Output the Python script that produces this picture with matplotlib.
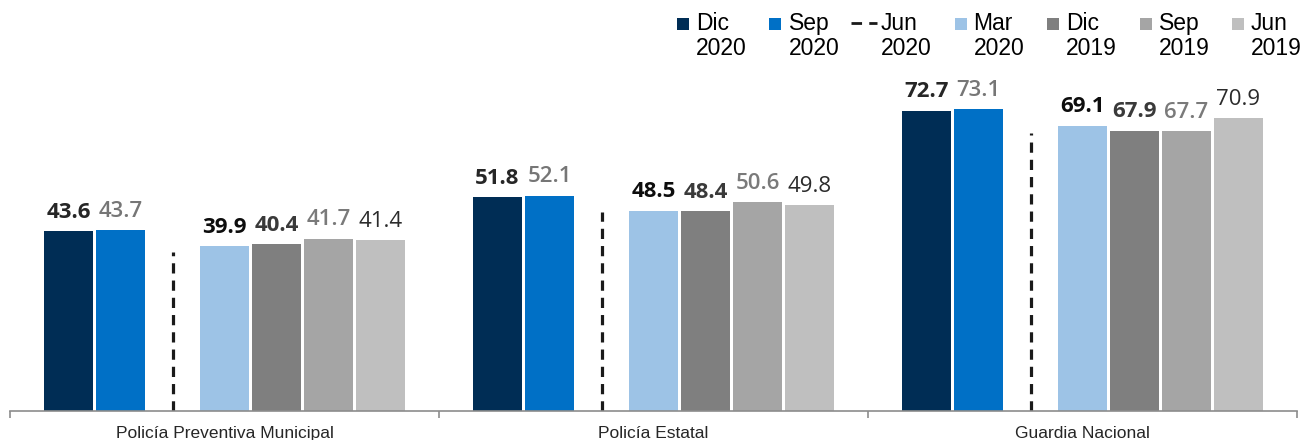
import numpy as np
import matplotlib
matplotlib.use("Agg")
import matplotlib.pyplot as plt
from matplotlib.patches import Rectangle
from matplotlib.lines import Line2D

plt.rcParams["font.family"] = ["Liberation Sans", "DejaVu Sans"]

# ---------- data ----------
categories = ["Policía Preventiva Municipal", "Policía Estatal", "Guardia Nacional"]
series_names = ["Dic\n2020", "Sep\n2020", "Jun\n2020", "Mar\n2020", "Dic\n2019", "Sep\n2019", "Jun\n2019"]

dic_2020 = [43.6, 51.8, 72.7]
sep_2020 = [43.7, 52.1, 73.1]
jun_2020_marker = [38.5, 48.2, 67.3]   # dashed separator, no survey in Jun 2020
mar_2020 = [39.9, 48.5, 69.1]
dic_2019 = [40.4, 48.4, 67.9]
sep_2019 = [41.7, 50.6, 67.7]
jun_2019 = [41.4, 49.8, 70.9]

bar_colors = ["#002D55", "#0070C6", None, "#9DC3E6", "#7F7F7F", "#A5A5A5", "#BFBFBF"]
label_colors = ["#262626", "#767676", None, "#0d0d0d", "#3a3a3a", "#7a7a7a", "#2b2b2b"]
label_weights = ["bold", "semibold", None, "bold", "bold", "semibold", "normal"]

# ---------- figure ----------
W, H = 1303, 440
fig = plt.figure(figsize=(W / 100, H / 100), dpi=100)
ax = fig.add_axes([10 / W, 29 / H, 1287 / W, 411 / H])
ax.set_xlim(-0.5, 2.5)
ax.set_ylim(0, 99.5)

x = np.arange(len(categories))
slot = 52 / 429
bar_w = 49 / 429

series = [dic_2020, sep_2020, jun_2020_marker, mar_2020, dic_2019, sep_2019, jun_2019]
for k, vals in enumerate(series):
    xs = x + (k - 3) * slot
    if k == 2:
        for xi, v in zip(xs, vals):
            ax.plot([xi, xi], [0, v], color="#1a1a1a", lw=2.3,
                    linestyle=(0, (3.2, 2.2)), solid_capstyle="butt")
        continue
    ax.bar(xs, vals, width=bar_w, color=bar_colors[k], edgecolor="none", zorder=2)
    for xi, v in zip(xs, vals):
        ax.annotate(f"{v:.1f}", (xi, v), xytext=(0, 6), textcoords="offset points",
                    ha="center", va="bottom", fontsize=16, family="Open Sans",
                    color=label_colors[k], fontweight=label_weights[k])

# axis styling
for s in ["top", "right", "left"]:
    ax.spines[s].set_visible(False)
ax.spines["bottom"].set_color("#8c8c8c")
ax.spines["bottom"].set_linewidth(1.2)
ax.set_yticks([])
ax.set_xticks([-0.5, 0.5, 1.5, 2.5])
ax.set_xticklabels([])
ax.tick_params(axis="x", which="major", length=5, color="#8c8c8c", width=1.2)
ax.set_xticks(x, minor=True)
ax.set_xticklabels(categories, minor=True, fontsize=12.5, color="#262626")
ax.tick_params(axis="x", which="minor", length=0, pad=11)

# ---------- legend (manual, two-line labels) ----------
def fx(px):
    return px / W

def fy(py):
    return 1 - py / H

for i, name in enumerate(series_names):
    tx = 696 + 92.5 * i
    line1, line2 = name.split("\n")
    fig.text(fx(tx), fy(30), line1, fontsize=16.5, color="#000000", va="baseline", ha="left")
    fig.text(fx(tx), fy(55), line2, fontsize=16.5, color="#000000", va="baseline", ha="left")
    if i == 2:
        fig.add_artist(Line2D([fx(tx - 30), fx(tx - 4)], [fy(23.5), fy(23.5)],
                              color="#1a1a1a", lw=2.0, linestyle=(0, (3.8, 2.6)),
                              transform=fig.transFigure))
    else:
        fig.add_artist(Rectangle((fx(tx - 19), fy(30)), 12 / W, 12 / H,
                                 facecolor=bar_colors[i], edgecolor="none",
                                 transform=fig.transFigure))

fig.savefig("out.png", dpi=100)
